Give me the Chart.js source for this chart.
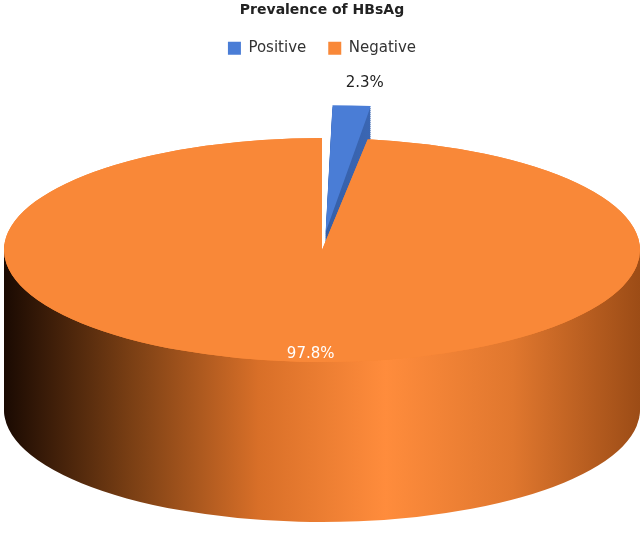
<!DOCTYPE html>
<html>
<head>
<meta charset="utf-8">
<script src="https://cdn.jsdelivr.net/npm/chart.js@4"></script>
<style>
  html, body { margin: 0; padding: 0; background: #fff; }
  #wrap { width: 644px; height: 533px; }
</style>
</head>
<body>
<div id="wrap"><canvas id="pieChart" width="644" height="533"></canvas></div>
<script>
const categories = ["Positive", "Negative"];
const values = [2.3, 97.8];
const valueLabels = ["2.3%", "97.8%"];

const topColors = ["#4A7DD6", "#F98838"];
// side shading stops, left -> right
const sideStops = [
  ["#1a0a02", "#7a3f14", "#d86f28", "#ff8c3c", "#e0772e", "#9c4c16"],
  ["#10203a", "#22406f", "#2f5597", "#3c69b8", "#2f5597", "#22406f"]
];

// target ellipse on screen
const TX = 322, TY = 250, RX = 318, RY = 112, DEPTH = 160;

function sideGradient(ctx, cx, r, stops) {
  const g = ctx.createLinearGradient(cx - r, 0, cx + r, 0);
  stops.forEach((c, i) => g.addColorStop(i / (stops.length - 1), c));
  return g;
}

const pie3d = {
  id: "pie3d",
  beforeDatasetsDraw(chart) {
    const ctx = chart.ctx;
    const arcs = chart.getDatasetMeta(0).data;
    const r = arcs[1].outerRadius, cx = arcs[1].x, cy = arcs[1].y;
    ctx.save();
    ctx.translate(TX, TY);
    ctx.scale(RX / r, RY / r);
    ctx.translate(-cx, -cy);
    const d = DEPTH * r / RY;
    const steps = 80;
    const grads = [sideGradient(ctx, cx, r, sideStops[1]), sideGradient(ctx, cx, r, sideStops[0])];
    for (let i = steps; i >= 1; i--) {
      arcs.forEach((el, k) => {
        const old = el.options.backgroundColor;
        ctx.save();
        ctx.translate(0, d * i / steps);
        el.options.backgroundColor = grads[k];
        el.draw(ctx);
        el.options.backgroundColor = old;
        ctx.restore();
      });
    }
  },
  afterDatasetsDraw(chart) {
    const ctx = chart.ctx;
    const arcs = chart.getDatasetMeta(0).data;
    // negative top sits in front of the exploded slice
    arcs[1].draw(ctx);
    ctx.restore();
    const r = arcs[1].outerRadius, cx = arcs[1].x, cy = arcs[1].y;
    const off = chart.data.datasets[0].offset;
    const fr = [0.97, 0.93];
    ctx.save();
    ctx.font = "15px 'DejaVu Sans', Verdana, sans-serif";
    ctx.textAlign = "center";
    ctx.textBaseline = "middle";
    arcs.forEach((el, k) => {
      const mid = (el.startAngle + el.endAngle) / 2;
      const rr = fr[k] * r + off[k];
      const px = cx + Math.cos(mid) * rr, py = cy + Math.sin(mid) * rr;
      const sx = TX + (px - cx) * RX / r, sy = TY + (py - cy) * RY / r;
      ctx.fillStyle = k === 0 ? "#222" : "#fff";
      ctx.fillText(valueLabels[k], sx + (k === 0 ? 6 : 10), sy + (k === 0 ? 12 : 0));
    });
    ctx.restore();
  }
};

new Chart(document.getElementById("pieChart"), {
  type: "pie",
  data: {
    labels: categories,
    datasets: [{
      data: values,
      backgroundColor: topColors,
      borderWidth: 0,
      offset: [110, 0]
    }]
  },
  options: {
    responsive: false,
    animation: false,
    layout: { padding: { top: 0, bottom: 10 } },
    plugins: {
      tooltip: { enabled: false },
      title: {
        display: true,
        text: "Prevalence of HBsAg",
        color: "#222",
        font: { family: "'DejaVu Sans', Verdana, sans-serif", size: 14, weight: "bold" },
        padding: { top: 2, bottom: 0 }
      },
      legend: {
        position: "top",
        labels: {
          color: "#333",
          boxWidth: 13,
          boxHeight: 13,
          padding: 22,
          font: { family: "'DejaVu Sans', Verdana, sans-serif", size: 15 }
        }
      }
    }
  },
  plugins: [pie3d]
});
</script>
</body>
</html>
